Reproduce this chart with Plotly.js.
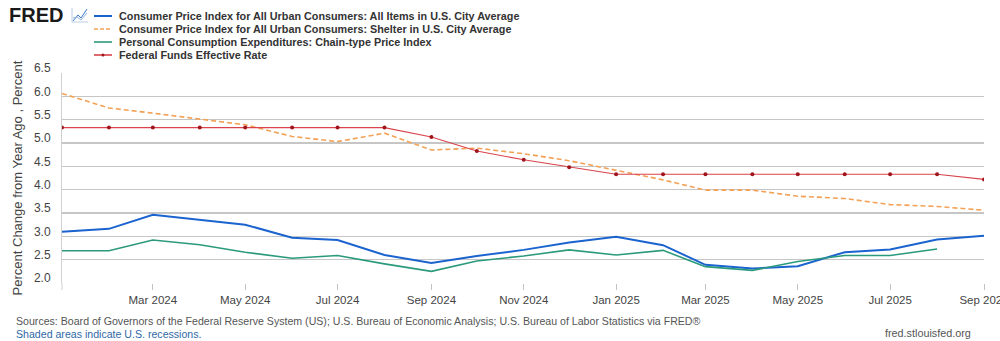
<!DOCTYPE html>
<html>
<head>
<meta charset="utf-8">
<script src="https://cdn.plot.ly/plotly-3.0.1.min.js"></script>
<style>html,body{margin:0;padding:0;background:#fff;}#chart{width:1000px;height:341px;}</style>
</head>
<body>
<div id="chart"></div>
<script>
const months = ["2024-01-01","2024-02-01","2024-03-01","2024-04-01","2024-05-01","2024-06-01","2024-07-01","2024-08-01","2024-09-01","2024-10-01","2024-11-01","2024-12-01","2025-01-01","2025-02-01","2025-03-01","2025-04-01","2025-05-01","2025-06-01","2025-07-01","2025-08-01","2025-09-01"];
const cpiAll = [3.10,3.16,3.46,3.35,3.25,2.97,2.92,2.60,2.43,2.58,2.71,2.87,2.99,2.81,2.39,2.31,2.36,2.66,2.72,2.93,3.01];
const cpiShelter = [6.06,5.75,5.64,5.52,5.39,5.14,5.03,5.21,4.85,4.89,4.77,4.62,4.41,4.21,3.99,3.99,3.86,3.81,3.68,3.64,3.56];
const pce = [2.69,2.69,2.92,2.82,2.66,2.53,2.59,2.41,2.25,2.47,2.58,2.71,2.60,2.70,2.35,2.27,2.46,2.59,2.59,2.73];
const fedFunds = [5.33,5.33,5.33,5.33,5.33,5.33,5.33,5.33,5.13,4.83,4.64,4.48,4.33,4.33,4.33,4.33,4.33,4.33,4.33,4.33,4.22];
const tickDates = ["2024-03-01","2024-05-01","2024-07-01","2024-09-01","2024-11-01","2025-01-01","2025-03-01","2025-05-01","2025-07-01","2025-09-01"];
const tickLabels = ["Mar 2024","May 2024","Jul 2024","Sep 2024","Nov 2024","Jan 2025","Mar 2025","May 2025","Jul 2025","Sep 2025"];
const seriesNames = [
  "Consumer Price Index for All Urban Consumers: All Items in U.S. City Average",
  "Consumer Price Index for All Urban Consumers: Shelter in U.S. City Average",
  "Personal Consumption Expenditures: Chain-type Price Index",
  "Federal Funds Effective Rate"
];
const yTitle = "Percent Change from Year Ago , Percent";
const sourceText = "Sources: Board of Governors of the Federal Reserve System (US); U.S. Bureau of Economic Analysis; U.S. Bureau of Labor Statistics via FRED®";
const shadeText = "Shaded areas indicate U.S. recessions.";
const siteText = "fred.stlouisfed.org";

const colors = {cpi:"#1b64cf", shelter:"#f3a155", pce:"#2b9a7c", ffr:"#d9434b", ffrMark:"#a0141c"};

// pixel -> paper helpers (plot area: x 62..984, y 73..283)
const L=62, R=984, T=73, B=283;
const px = x => (x-L)/(R-L);
const py = y => (B-y)/(B-T);

const traces = [
  {x: months, y: cpiAll, type:"scatter", mode:"lines", name: seriesNames[0], line:{color:colors.cpi, width:2}},
  {x: months.slice(0, cpiShelter.length), y: cpiShelter, type:"scatter", mode:"lines", name: seriesNames[1], line:{color:colors.shelter, width:1.6, dash:"5px,3px"}},
  {x: months.slice(0, pce.length), y: pce, type:"scatter", mode:"lines", name: seriesNames[2], line:{color:colors.pce, width:1.6}},
  {x: months.slice(0, fedFunds.length), y: fedFunds, type:"scatter", mode:"lines+markers", name: seriesNames[3], line:{color:colors.ffr, width:1.1}, marker:{color:colors.ffrMark, size:4}}
];

const legendColors = [colors.cpi, colors.shelter, colors.pce, colors.ffr];
const legendRowsY = [16, 29, 42, 55];
const shapes = [];
const annotations = [];
seriesNames.forEach((n,i)=>{
  const yy = legendRowsY[i];
  shapes.push({type:"line", xref:"paper", yref:"paper", x0:px(94), x1:px(112), y0:py(yy), y1:py(yy),
    line:{color:legendColors[i], width: i===0?2:1.6, dash: i===1?"4px,2px":"solid"}});
  annotations.push({xref:"paper", yref:"paper", x:px(117), y:py(yy), xanchor:"left", yanchor:"middle", showarrow:false,
    text:"<b>"+n+"</b>", font:{family:"Liberation Sans, Arial, sans-serif", size:10.8, color:"#333333"}});
});
shapes.push({type:"circle", xref:"paper", yref:"paper", x0:px(101.5), x1:px(104.5), y0:py(53.5), y1:py(56.5), fillcolor:colors.ffrMark, line:{width:0}});
// FRED icon
shapes.push({type:"path", xref:"paper", yref:"paper", path:`M ${px(73)} ${py(21)} L ${px(78)} ${py(15)} L ${px(81)} ${py(18)} L ${px(87)} ${py(9)}`, line:{color:"#3a79c9", width:1}});
shapes.push({type:"path", xref:"paper", yref:"paper", path:`M ${px(73)} ${py(18)} L ${px(77)} ${py(17)} L ${px(81)} ${py(20)} L ${px(87)} ${py(13)}`, line:{color:"#8fb3e0", width:1}});
shapes.push({type:"path", xref:"paper", yref:"paper", path:`M ${px(72)} ${py(8)} L ${px(72)} ${py(22)} L ${px(88)} ${py(22)}`, line:{color:"#b9cde8", width:1}});
// y-axis line extension below plot (as in reference)
shapes.push({type:"line", xref:"paper", yref:"paper", x0:0, x1:0, y0:py(283), y1:py(290), line:{color:"#d0d0d0", width:1}});

annotations.push({xref:"paper", yref:"paper", x:px(7), y:py(14.5), xanchor:"left", yanchor:"middle", showarrow:false,
  text:"<b>FRED</b>", font:{family:"Liberation Sans, Arial, sans-serif", size:20, color:"#1a1a1a"}});
annotations.push({xref:"paper", yref:"paper", x:px(14), y:py(321), xanchor:"left", yanchor:"middle", showarrow:false,
  text:sourceText, font:{family:"Liberation Sans, Arial, sans-serif", size:10.6, color:"#555555"}});
annotations.push({xref:"paper", yref:"paper", x:px(14), y:py(334), xanchor:"left", yanchor:"middle", showarrow:false,
  text:shadeText, font:{family:"Liberation Sans, Arial, sans-serif", size:10.6, color:"#2f68a6"}});
annotations.push({xref:"paper", yref:"paper", x:px(973), y:py(333), xanchor:"right", yanchor:"middle", showarrow:false,
  text:siteText, font:{family:"Liberation Sans, Arial, sans-serif", size:10.8, color:"#555555"}});

const layout = {
  width:1000, height:341,
  margin:{l:L, r:1000-R, t:T, b:341-B, pad:0},
  paper_bgcolor:"#ffffff", plot_bgcolor:"#ffffff",
  showlegend:false,
  font:{family:"Liberation Sans, Arial, sans-serif", size:12, color:"#444444"},
  xaxis:{
    type:"date", range:["2024-01-01","2025-09-01"],
    tickmode:"array", tickvals:tickDates, ticktext:tickLabels,
    showgrid:false, ticks:"outside", ticklen:6, tickcolor:"#c3c3c3", tickwidth:1,
    showline:false, zeroline:false, ticklabeloverflow:"allow",
    tickfont:{size:11.5, color:"#444444"}
  },
  yaxis:{
    range:[2,6.5], dtick:0.5, tickformat:".1f",
    showgrid:true, gridcolor:"#c6c6c6", gridwidth:1.6,
    showline:true, linecolor:"#d0d0d0", linewidth:1, zeroline:false,
    ticks:"", ticklabelstandoff:8, ticklabelshift:-5,
    tickfont:{size:12, color:"#444444"},
    title:{text:yTitle, standoff:8, font:{size:13, color:"#444444"}}
  },
  shapes: shapes,
  annotations: annotations
};

Plotly.newPlot("chart", traces, layout, {displayModeBar:false, staticPlot:true});
</script>
</body>
</html>
